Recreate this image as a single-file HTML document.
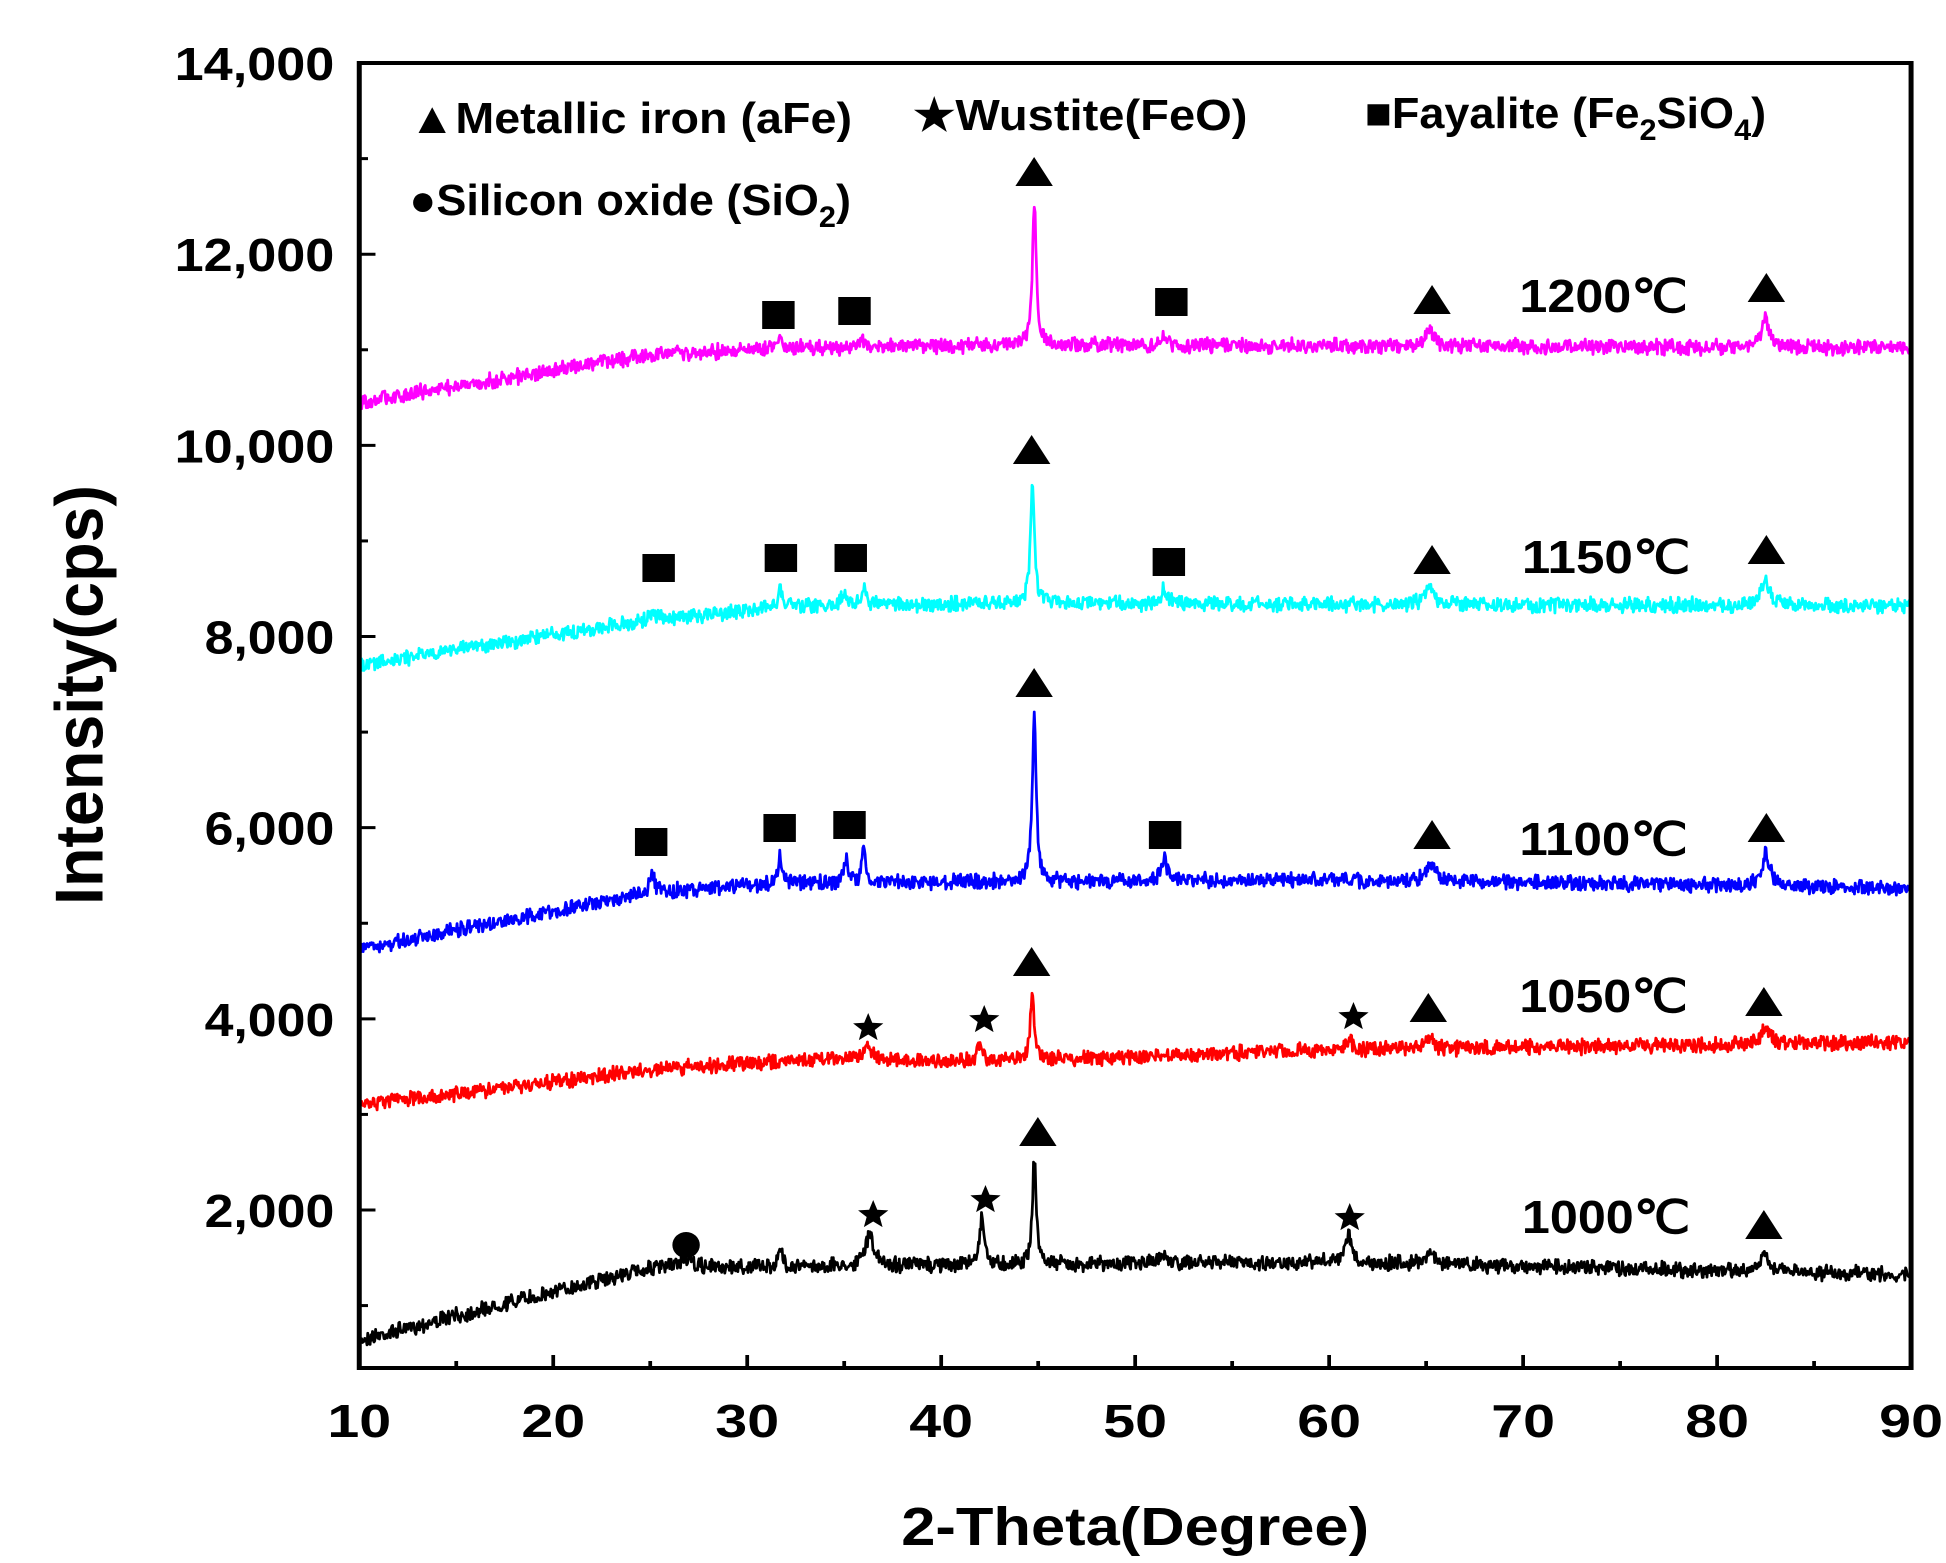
<!DOCTYPE html>
<html><head><meta charset="utf-8"><style>html,body{margin:0;padding:0;background:#fff}svg{display:block}</style></head>
<body>
<svg id="s" width="1946" height="1563" viewBox="0 0 1560 1563" preserveAspectRatio="none" xmlns="http://www.w3.org/2000/svg" font-family="'Liberation Sans', Arial, sans-serif" font-weight="bold">
<rect width="1560" height="1563" fill="#fff"/>
<g id="series" fill="none" stroke-width="2.2" stroke-linejoin="round"></g>
<rect x="288" y="63" width="1244" height="1305" fill="none" stroke="#000" stroke-width="4"/>
<g id="ticks" stroke="#000" stroke-width="3"></g>
<g id="labels" font-size="46" fill="#000"></g>
<text x="910" y="1545" font-size="54" text-anchor="middle" textLength="375" lengthAdjust="spacingAndGlyphs">2-Theta(Degree)</text>
<text transform="translate(82,695) rotate(-90)" font-size="54" text-anchor="middle" textLength="420" lengthAdjust="spacingAndGlyphs">Intensity(cps)</text>
<g font-size="44">
<text x="328" y="133" textLength="355" lengthAdjust="spacingAndGlyphs">▲Metallic iron (aFe)</text>
<text x="732" y="130" textLength="268" lengthAdjust="spacingAndGlyphs">★Wustite(FeO)</text>
<g transform="translate(1094,128) scale(0.82,1)"><text x="0" y="0">■Fayalite (Fe<tspan font-size="30" dy="12">2</tspan><tspan dy="-12">SiO</tspan><tspan font-size="30" dy="12">4</tspan><tspan dy="-12">)</tspan></text></g>
<g transform="translate(328,215) scale(0.82,1)"><text x="0" y="0">●Silicon oxide (SiO<tspan font-size="30" dy="12">2</tspan><tspan dy="-12">)</tspan></text></g>
</g>
<g font-size="46">
<text x="1218" y="312" textLength="135" lengthAdjust="spacingAndGlyphs">1200℃</text>
<text x="1220" y="573" textLength="135" lengthAdjust="spacingAndGlyphs">1150℃</text>
<text x="1218" y="855" textLength="135" lengthAdjust="spacingAndGlyphs">1100℃</text>
<text x="1218" y="1012" textLength="135" lengthAdjust="spacingAndGlyphs">1050℃</text>
<text x="1220" y="1233" textLength="135" lengthAdjust="spacingAndGlyphs">1000℃</text>
</g>
<g id="marks" fill="#000"></g>
</svg>
<script>
var NS="http://www.w3.org/2000/svg";
function el(p,t,a){var e=document.createElementNS(NS,t);for(var k in a)e.setAttribute(k,a[k]);p.appendChild(e);return e;}
var X=function(d){return 288+(d-10)*15.55;};
var Y=function(v){return 1210-(v-2000)*0.09558;};
var tk=document.getElementById('ticks'),lb=document.getElementById('labels');
for(var d=10;d<=90;d+=5){var x=X(d);var big=d%10==0;el(tk,'line',{x1:x,y1:1368,x2:x,y2:big?1355:1361});
 if(big){var t=el(lb,'text',{x:x,y:1437,'text-anchor':'middle'});t.textContent=d;}}
for(var v=1000;v<=14000;v+=1000){var y=Y(v);var big=v%2000==0;el(tk,'line',{x1:288,y1:y,x2:big?301:295,y2:y});
 if(big){var t=el(lb,'text',{x:268,y:y+17,'text-anchor':'end',textLength:v>=10000?128:104,lengthAdjust:'spacingAndGlyphs'});t.textContent=v.toLocaleString('en-US');}}
var seed=7;function rnd(){seed=(seed*16807)%2147483647;return seed/2147483647;}
function interp(pts,d){for(var i=0;i<pts.length-1;i++){if(d<=pts[i+1][0]){var a=pts[i],b=pts[i+1];return a[1]+(b[1]-a[1])*(d-a[0])/(b[0]-a[0]);}}return pts[pts.length-1][1];}
var S=[
 {c:'#000',base:[[10,1340],[25,1268],[40,1265],[60,1262],[90,1275]],pk:[[26.8,10,.3],[31.7,15,.15],[36.3,32,.25],[42.1,48,.15],[44.8,105,.12],[51.5,10,.2],[61,30,.15],[65.2,12,.3],[82.5,16,.3]]},
 {c:'#ff0000',base:[[10,1105],[25,1070],[35,1057],[40,1062],[50,1057],[60,1050],[90,1042]],pk:[[36.2,12,.25],[42,15,.15],[44.7,68,.12],[61,10,.2],[65.2,12,.2],[82.5,15,.3]]},
 {c:'#0000ff',base:[[10,950],[25,892],[32,883],[60,880],[90,888]],pk:[[25.1,18,.15],[31.7,28,.12],[35.1,24,.12],[36,33,.12],[44.8,170,.12],[51.5,25,.15],[65.2,18,.25],[82.5,32,.25]]},
 {c:'#00ffff',base:[[10,665],[25,620],[32,606],[45,603],[90,606]],pk:[[25.1,10,.15],[31.7,20,.12],[35,14,.15],[36,20,.12],[44.7,118,.12],[51.5,14,.2],[65.2,18,.25],[82.5,26,.25]]},
 {c:'#ff00ff',base:[[10,402],[25,355],[32,348],[45,345],[90,348]],pk:[[31.7,10,.15],[35.9,8,.15],[44.8,140,.12],[51.5,8,.2],[65.2,18,.25],[82.5,28,.25]]}
];
var g=document.getElementById('series');
S.forEach(function(s){var p=[];for(var d=10;d<=90;d+=0.04){var y=interp(s.base,d)+(rnd()-0.5)*13+(rnd()-0.5)*5;
 s.pk.forEach(function(k){var z=(d-k[0])/k[2];y-=k[1]/(1+z*z);});p.push(X(d).toFixed(1)+','+y.toFixed(1));}
 el(g,'polyline',{points:p.join(' '),stroke:s.c});});
var m=document.getElementById('marks');
function tri(x,y){el(m,'polygon',{points:(x-15)+','+(y+14)+' '+(x+15)+','+(y+14)+' '+x+','+(y-15)});}
function sq(x,y){el(m,'rect',{x:x-13,y:y-14,width:26,height:28});}
function star(x,y){var r=15,ri=6.5,pts=[];for(var i=0;i<10;i++){var a=-Math.PI/2+i*Math.PI/5,rr=i%2?ri:r;pts.push((x+rr*Math.cos(a)*0.85)+','+(y+rr*Math.sin(a)));}el(m,'polygon',{points:pts.join(' ')});}
[[829,172],[1148,300],[1416,288],[827,450],[1148,560],[1416,550],[829,683],[1148,835],[1416,828],[827,962],[1145,1008],[1414,1002],[832,1132],[1414,1225]].forEach(function(a){tri(a[0],a[1]);});
[[624,315],[685,311],[939,302],[528,568],[626,558],[682,558],[937,562],[522,842],[625,828],[681,825],[934,835]].forEach(function(a){sq(a[0],a[1]);});
[[696,1028],[789,1020],[1085,1017],[700,1215],[790,1200],[1082,1218]].forEach(function(a){star(a[0],a[1]);});
el(m,'ellipse',{cx:550,cy:1245,rx:11,ry:13});
</script>
</body></html>
